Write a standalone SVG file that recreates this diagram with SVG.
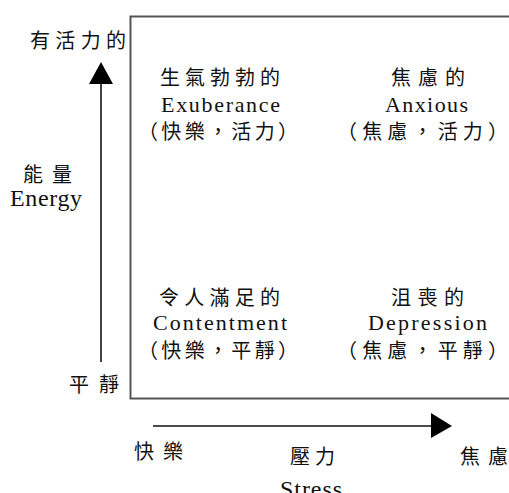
<svg xmlns="http://www.w3.org/2000/svg" width="509" height="493" viewBox="0 0 509 493">
<style>
.cjk{font-family:"Noto Sans CJK TC","Noto Sans CJK SC",sans-serif;font-size:20px;fill:#111;}
.lat{font-family:"Liberation Serif",serif;font-size:22px;fill:#111;}
.ser{font-family:"Liberation Serif",serif;font-size:24px;fill:#111;}
.ln{stroke:#111;stroke-width:1.6;fill:none;}
</style>
<rect width="509" height="493" fill="#fff"/>
<g id="frame"><rect x="130.5" y="16.5" width="390" height="382" fill="none" stroke="#555" stroke-width="2"/></g>
<g id="connectors">
<line class="ln" x1="101" y1="362" x2="101" y2="82"/>
<polygon points="101,62 89,84 113,84" fill="#000"/>
<line class="ln" x1="153" y1="426" x2="433" y2="426"/>
<polygon points="452,426 431,413 431,438" fill="#000"/>
</g>
<g id="axis-y">
<text class="cjk" x="30" y="48" textLength="96">有活力的</text>
<text class="cjk" x="23" y="182" textLength="49">能量</text>
<text class="ser" x="10" y="206" textLength="72">Energy</text>
<text class="cjk" x="69" y="392" textLength="50">平靜</text>
</g>
<g id="axis-x">
<text class="cjk" x="134" y="459" textLength="49">快樂</text>
<text class="cjk" x="290" y="464" textLength="45">壓力</text>
<text class="ser" x="280" y="497" textLength="62">Stress</text>
<text class="cjk" x="460" y="464" textLength="48">焦慮</text>
</g>
<g id="q-exuberance">
<text class="cjk" x="160" y="85" textLength="120">生氣勃勃的</text>
<text class="lat" x="161" y="112" textLength="119">Exuberance</text>
<text class="cjk" x="138" y="139" textLength="160">（快樂，活力）</text>
</g>
<g id="q-anxious">
<text class="cjk" x="391" y="85" textLength="74">焦慮的</text>
<text class="lat" x="385" y="112" textLength="83">Anxious</text>
<text class="cjk" x="337" y="139" textLength="171">（焦慮，活力）</text>
</g>
<g id="q-contentment">
<text class="cjk" x="159" y="305" textLength="121">令人滿足的</text>
<text class="lat" x="153" y="330" textLength="134">Contentment</text>
<text class="cjk" x="138" y="358" textLength="160">（快樂，平靜）</text>
</g>
<g id="q-depression">
<text class="cjk" x="391" y="305" textLength="73">沮喪的</text>
<text class="lat" x="368" y="330" textLength="119">Depression</text>
<text class="cjk" x="337" y="358" textLength="171">（焦慮，平靜）</text>
</g>
</svg>
